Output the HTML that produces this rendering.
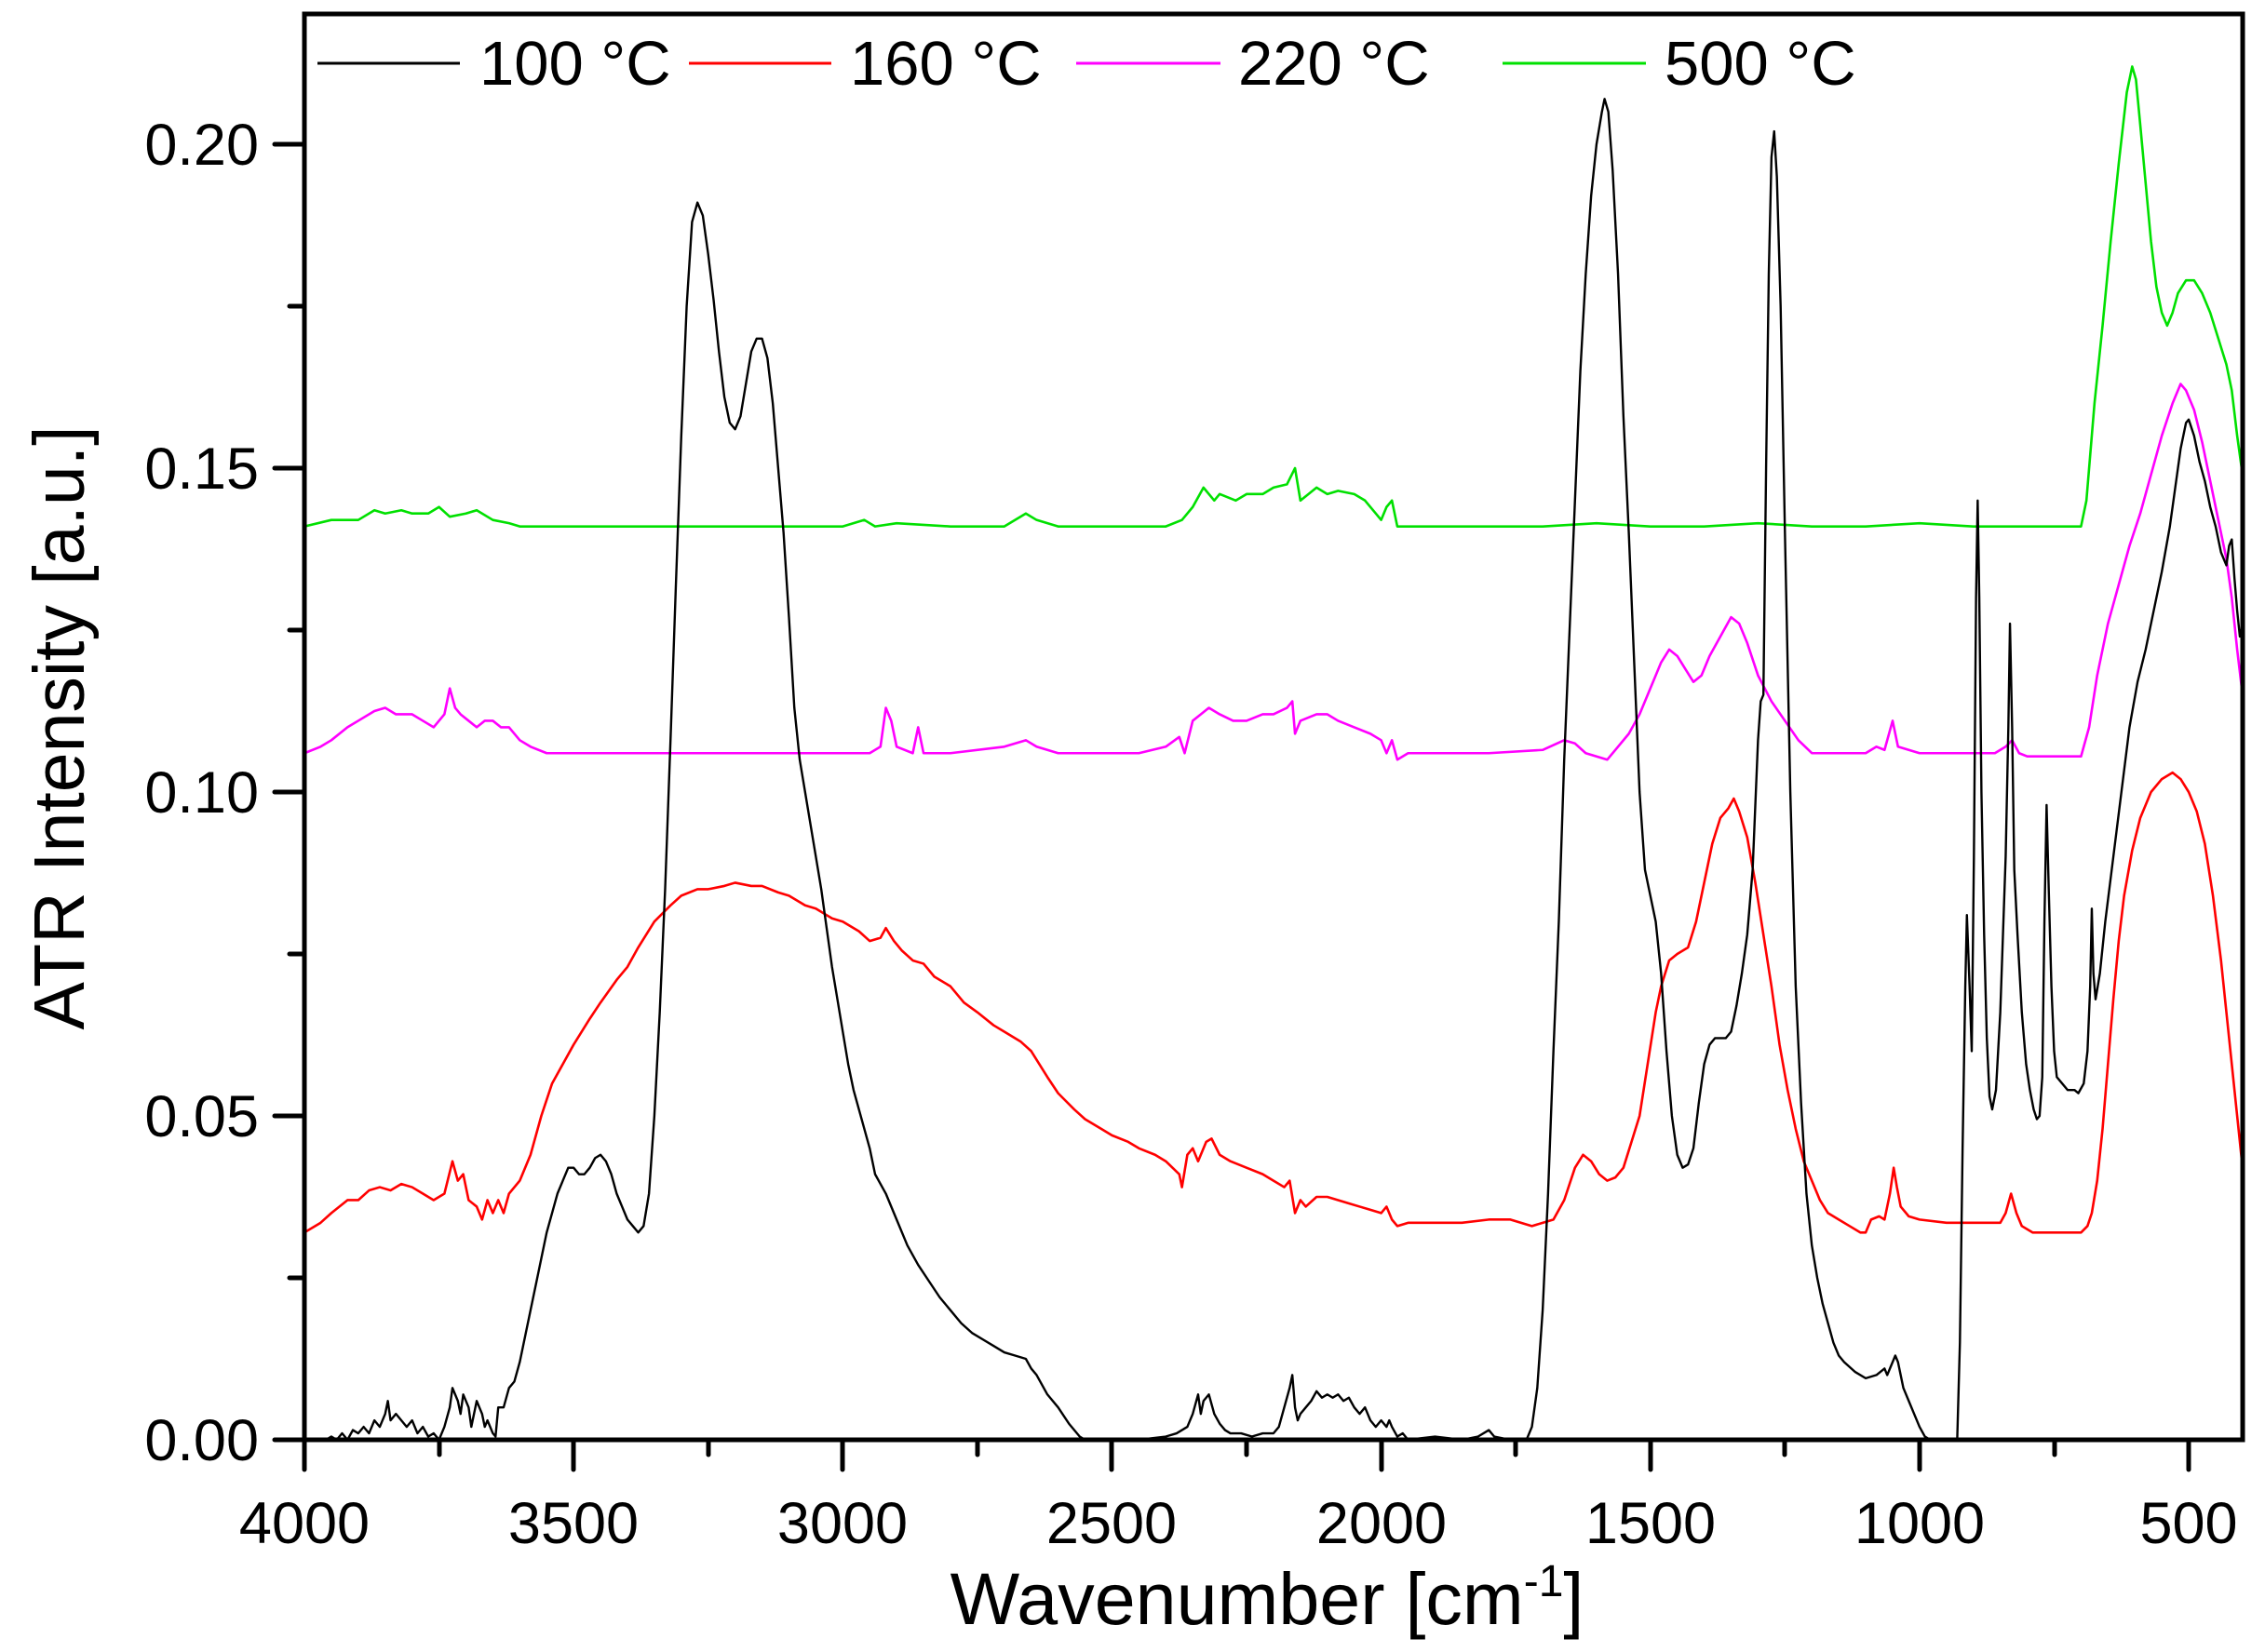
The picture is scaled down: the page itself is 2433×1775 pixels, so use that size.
<!DOCTYPE html>
<html><head><meta charset="utf-8"><style>
html,body{margin:0;padding:0;background:#fff}
svg{display:block}
text{font-family:"Liberation Sans",Arial,sans-serif;fill:#000}
</style></head><body>
<svg width="2433" height="1775" viewBox="0 0 2433 1775" xmlns="http://www.w3.org/2000/svg">
<rect width="2433" height="1775" fill="#fff"/>
<g transform="matrix(-0.5783 0 0 -6.96 2640.2 1547)" fill="none" stroke-linejoin="round">
<polyline vector-effect="non-scaling-stroke" stroke="#00e000" stroke-width="2.6" points="4000,141 3950,142 3900,142 3870,143.5 3850,143 3820,143.5 3800,143 3770,143 3750,144 3730,142.5 3700,143 3680,143.5 3650,142 3620,141.5 3600,141 3500,141 3400,141 3300,141 3200,141 3100,141 3000,141 2960,142 2940,141 2900,141.5 2800,141 2700,141 2660,143 2640,142 2600,141 2500,141 2400,141 2370,142 2350,144 2330,147 2310,145 2300,146 2270,145 2250,146 2220,146 2200,147 2175,147.5 2160,150 2150,145 2135,146 2120,147 2100,146 2080,146.5 2050,146 2030,145 2010,143 2000,142 1990,144 1980,145 1970,141 1900,141 1800,141 1700,141 1600,141.5 1500,141 1400,141 1300,141.5 1200,141 1100,141 1000,141.5 900,141 800,141 700,141 690,145 675,160 660,172 645,185 630,197 615,208 605,212 598,210 590,203 580,194 570,185 560,178 550,174 540,172 530,174 520,177 505,179 490,179 475,177 460,174 445,170 430,166 420,162 410,155 400,149"/>
<polyline vector-effect="non-scaling-stroke" stroke="#ff00ff" stroke-width="2.6" points="4000,106 3970,107 3950,108 3920,110 3900,111 3870,112.5 3850,113 3830,112 3800,112 3780,111 3760,110 3740,112 3730,116 3720,113 3710,112 3695,111 3680,110 3665,111 3650,111 3635,110 3620,110 3600,108 3580,107 3550,106 3500,106 3400,106 3300,106 3200,106 3100,106 3000,106 2950,106 2930,107 2920,113 2910,111 2900,107 2870,106 2860,110 2850,106 2800,106 2700,107 2660,108 2640,107 2600,106 2500,106 2450,106 2400,107 2375,108.5 2365,106 2350,111 2335,112 2320,113 2300,112 2275,111 2250,111 2220,112 2200,112 2175,113 2165,114 2160,109 2150,111 2120,112 2100,112 2080,111 2050,110 2020,109 2000,108 1990,106 1980,108 1970,105 1950,106 1900,106 1800,106 1700,106.5 1660,108 1640,107.5 1620,106 1600,105.5 1580,105 1560,107 1540,109 1520,112 1500,116 1480,120 1465,122 1450,121 1435,119 1420,117 1405,118 1390,121 1370,124 1350,127 1335,126 1320,123 1300,118 1275,114 1250,111 1225,108 1200,106 1150,106 1100,106 1080,107 1065,106.5 1050,111 1040,107 1000,106 950,106 900,106 860,106 840,107 828,108 815,106 800,105.5 750,105.5 700,105.5 685,110 670,118 650,126 630,132 610,138 590,143 570,149 550,155 530,160 515,163 505,162 490,159 475,154 460,148 445,142 430,136 420,130 410,122 400,115"/>
<polyline vector-effect="non-scaling-stroke" stroke="#ff0000" stroke-width="2.6" points="4000,32 3970,33.5 3950,35 3920,37 3900,37 3880,38.5 3860,39 3840,38.5 3820,39.5 3800,39 3780,38 3760,37 3740,38 3725,43 3715,40 3705,41 3695,37 3680,36 3670,34 3660,37 3650,35 3640,37 3630,35 3620,38 3600,40 3580,44 3560,50 3540,55 3520,58 3500,61 3470,65 3450,67.5 3420,71 3400,73 3380,76 3350,80 3320,82.5 3300,84 3270,85 3250,85 3220,85.5 3200,86 3170,85.5 3150,85.5 3120,84.5 3100,84 3070,82.5 3050,82 3020,80.5 3000,80 2970,78.5 2950,77 2930,77.5 2920,79 2905,77 2890,75.5 2870,74 2850,73.5 2830,71.5 2800,70 2775,67.5 2750,66 2720,64 2700,63 2670,61.5 2650,60 2620,56 2600,53.5 2570,51 2550,49.5 2520,48 2500,47 2470,46 2450,45 2420,44 2400,43 2375,41 2370,39 2360,44 2350,45 2340,43 2325,46 2315,46.5 2300,44 2280,43 2250,42 2220,41 2200,40 2180,39 2170,40 2160,35 2150,37 2140,36 2120,37.5 2100,37.5 2080,37 2060,36.5 2040,36 2020,35.5 2000,35 1990,36 1980,34 1970,33 1950,33.5 1900,33.5 1850,33.5 1800,34 1760,34 1720,33 1700,33.5 1680,34 1660,37 1640,42 1625,44 1610,43 1595,41 1580,40 1565,40.5 1550,42 1535,46 1520,50 1505,58 1490,66 1480,70 1465,74 1450,75 1440,75.5 1430,76 1415,80 1400,86 1385,92 1370,96 1355,97.5 1345,99 1335,97 1320,93 1305,86 1290,78 1275,70 1260,61 1245,54 1230,48 1215,43 1200,40 1185,37 1170,35 1150,34 1130,33 1110,32 1100,32 1090,34 1075,34.5 1065,34 1055,38 1048,42 1042,39 1035,36 1020,34.5 1000,34 950,33.5 900,33.5 870,33.5 850,33.5 840,35 830,38 820,35 810,33 790,32 750,32 720,32 700,32 688,33 680,35 670,40 660,48 650,58 640,68 630,77 620,84 605,91 590,96 570,100 550,102 530,103 515,102 500,100 485,97 470,92 455,84 440,74 430,66 420,58 410,50 400,42"/>
<polyline vector-effect="non-scaling-stroke" stroke="#000" stroke-width="2.4" points="4000,0 3960,0 3950,0.5 3940,0 3930,1 3920,0 3910,1.5 3900,1 3890,2 3880,1 3870,3 3860,2 3850,4 3845,6 3840,3 3830,4 3820,3 3810,2 3800,3 3790,1 3780,2 3770,0.5 3760,1 3750,0 3740,2 3730,5 3725,8 3715,6 3710,4 3705,7 3695,5 3690,2 3680,6 3670,4 3665,2 3660,3 3650,1 3645,0.5 3640,5 3630,5 3620,8 3610,9 3600,12 3590,16 3580,20 3570,24 3560,28 3550,32 3540,35 3530,38 3520,40 3510,42 3500,42 3490,41 3480,41 3470,42 3460,43.5 3450,44 3440,43 3430,41 3420,38 3410,36 3400,34 3390,33 3380,32 3370,33 3360,38 3350,50 3340,66 3330,85 3320,108 3310,132 3300,155 3290,175 3280,188 3270,191 3260,189 3250,183 3240,176 3230,168 3220,161 3210,157 3200,156 3190,158 3180,163 3170,168 3160,170 3150,170 3140,167 3130,160 3120,150 3110,140 3100,127 3090,113 3080,105 3070,100 3060,95 3050,90 3040,85 3030,79 3020,73 3010,68 3000,63 2990,58 2980,54 2970,51 2960,48 2950,45 2940,41 2920,38 2900,34 2880,30 2860,27 2840,24.5 2820,22 2800,20 2780,18 2760,16.5 2740,15.5 2720,14.5 2700,13.5 2680,13 2660,12.5 2650,11 2640,10 2620,7 2600,5 2580,2.5 2560,0.5 2550,0 2500,0 2450,0 2400,0.5 2380,1 2370,1.5 2360,2 2350,4 2340,7 2335,4 2330,6 2320,7 2310,4 2300,2.5 2290,1.5 2280,1 2260,1 2240,0.5 2220,1 2200,1 2190,2 2180,5 2170,8 2165,10 2160,5 2155,3 2150,4 2140,5 2130,6 2120,7.5 2110,6.5 2100,7 2090,6.5 2080,7 2070,6 2060,6.5 2050,5 2040,4 2030,5 2020,3 2010,2 2000,3 1990,2 1985,3 1980,2 1970,0.5 1960,1 1950,0 1900,0.5 1850,0 1820,0.5 1800,1.5 1790,0.5 1760,0 1730,0 1720,2 1710,8 1700,20 1690,38 1680,60 1670,80 1660,105 1650,125 1640,145 1630,165 1620,180 1610,192 1600,200 1590,205 1585,207 1578,205 1570,196 1560,180 1550,158 1540,140 1530,120 1520,100 1510,88 1500,84 1490,80 1480,72 1470,60 1460,50 1450,44 1440,42 1430,42.5 1420,45 1410,52 1400,58 1390,61 1380,62 1370,62 1360,62 1350,63 1340,67 1330,72 1320,78 1310,88 1300,108 1295,114 1290,115 1285,150 1280,180 1275,198 1270,202 1265,195 1258,175 1250,140 1240,100 1230,70 1220,52 1210,38 1200,30 1190,25 1180,21 1170,18 1160,15 1150,13 1140,12 1120,10.5 1100,9.5 1080,10 1065,11 1060,10 1050,12 1045,13 1040,12 1030,8 1020,6 1010,4 1000,2 990,0.5 980,0 940,0 930,0 925,15 920,45 915,70 912,81 907,70 903,60 899,90 895,130 892,145 889,130 885,100 880,78 875,62 870,53 865,51 858,54 850,66 845,78 840,90 835,110 832,126 828,110 824,88 818,78 810,66 802,58 795,54 788,51 782,49.5 777,50 772,56 768,80 764,98 760,85 755,70 750,60 745,56 735,55 725,54 712,54 705,53.5 695,55 688,60 683,70 680,82 677,72 673,68 665,72 655,80 640,90 625,100 610,110 595,117 580,122 565,128 550,134 535,141 525,147 515,153 505,157 500,157.5 490,155 480,151 470,148 460,144 450,141 440,137 430,135 425,138 420,139 415,133 410,128 405,124 400,126"/>
</g>
<rect x="327" y="15" width="2082" height="1532" fill="none" stroke="#000" stroke-width="5"/>
<g stroke="#000" stroke-width="5" stroke-linecap="round">
<line x1="327" y1="1547" x2="327" y2="1579"/>
<line x1="616" y1="1547" x2="616" y2="1579"/>
<line x1="905" y1="1547" x2="905" y2="1579"/>
<line x1="1194" y1="1547" x2="1194" y2="1579"/>
<line x1="1484" y1="1547" x2="1484" y2="1579"/>
<line x1="1773" y1="1547" x2="1773" y2="1579"/>
<line x1="2062" y1="1547" x2="2062" y2="1579"/>
<line x1="2351" y1="1547" x2="2351" y2="1579"/>
<line x1="472" y1="1547" x2="472" y2="1563"/>
<line x1="761" y1="1547" x2="761" y2="1563"/>
<line x1="1050" y1="1547" x2="1050" y2="1563"/>
<line x1="1339" y1="1547" x2="1339" y2="1563"/>
<line x1="1628" y1="1547" x2="1628" y2="1563"/>
<line x1="1917" y1="1547" x2="1917" y2="1563"/>
<line x1="2207" y1="1547" x2="2207" y2="1563"/>
<line x1="295" y1="1547" x2="327" y2="1547"/>
<line x1="295" y1="1199" x2="327" y2="1199"/>
<line x1="295" y1="851" x2="327" y2="851"/>
<line x1="295" y1="503" x2="327" y2="503"/>
<line x1="295" y1="155" x2="327" y2="155"/>
<line x1="311" y1="1373" x2="327" y2="1373"/>
<line x1="311" y1="1025" x2="327" y2="1025"/>
<line x1="311" y1="677" x2="327" y2="677"/>
<line x1="311" y1="329" x2="327" y2="329"/>
</g>
<g font-size="63" text-anchor="end">
<text x="278" y="1569">0.00</text>
<text x="278" y="1221">0.05</text>
<text x="278" y="873">0.10</text>
<text x="278" y="525">0.15</text>
<text x="278" y="177">0.20</text>
</g>
<g font-size="63" text-anchor="middle">
<text x="327" y="1658">4000</text>
<text x="616" y="1658">3500</text>
<text x="905" y="1658">3000</text>
<text x="1194" y="1658">2500</text>
<text x="1484" y="1658">2000</text>
<text x="1773" y="1658">1500</text>
<text x="2062" y="1658">1000</text>
<text x="2351" y="1658">500</text>
</g>
<text x="1361" y="1745" font-size="79" text-anchor="middle">Wavenumber [cm<tspan dy="-30" font-size="48">-1</tspan><tspan dy="30">]</tspan></text>
<text transform="translate(90,782) rotate(-90)" font-size="77" text-anchor="middle">ATR Intensity [a.u.]</text>
<g stroke-width="3">
<line x1="341" y1="68" x2="494" y2="68" stroke="#000"/>
<line x1="740" y1="68" x2="893" y2="68" stroke="#ff0000"/>
<line x1="1156" y1="68" x2="1311" y2="68" stroke="#ff00ff"/>
<line x1="1614" y1="68" x2="1768" y2="68" stroke="#00e000"/>
</g>
<g font-size="67">
<text x="515" y="91">100 °C</text>
<text x="913" y="91">160 °C</text>
<text x="1330" y="91">220 °C</text>
<text x="1788" y="91">500 °C</text>
</g>
</svg>
</body></html>
